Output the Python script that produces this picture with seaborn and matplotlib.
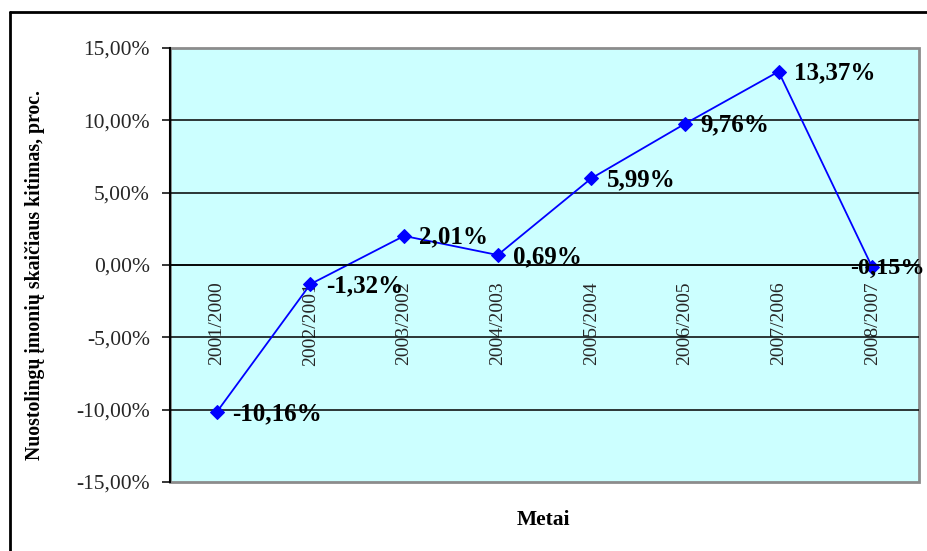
import matplotlib
matplotlib.use("Agg")
import matplotlib.pyplot as plt
import matplotlib.ticker as mticker
from matplotlib.lines import Line2D
from matplotlib.patches import Rectangle
import seaborn as sns
import pandas as pd

# Data: yearly change in the number of loss-making companies
periods = ["2001/2000", "2002/2001", "2003/2002", "2004/2003",
           "2005/2004", "2006/2005", "2007/2006", "2008/2007"]
change_pct = [-10.16, -1.32, 2.01, 0.69, 5.99, 9.76, 13.37, -0.15]
y_ticks = [-15, -10, -5, 0, 5, 10, 15]

sns.set_theme(style="white")
plt.rcParams["font.family"] = ["Liberation Serif", "DejaVu Serif"]

W, H = 927, 551
fig = plt.figure(figsize=(W / 100, H / 100), dpi=100)
fig.patch.set_facecolor("white")

left, right, top, bottom = 170, 919, 48, 482
ax = fig.add_axes([left / W, 1 - bottom / H, (right - left) / W, (bottom - top) / H])
ax.set_facecolor("#CCFFFF")

df = pd.DataFrame({"x": range(len(periods)), "y": change_pct})
sns.lineplot(data=df, x="x", y="y", ax=ax, color="#0000FF", linewidth=1.3,
             marker="D", markersize=7, markeredgecolor="#0000FF", sort=False)

ax.set_xlim(-0.5, len(periods) - 0.5)
ax.set_ylim(-15, 15)

# horizontal grid lines
ax.set_yticks(y_ticks)
ax.yaxis.set_major_formatter(mticker.FuncFormatter(
    lambda v, p: f"{v:.2f}".replace(".", ",") + "%"))
for v in y_ticks[1:-1]:
    ax.axhline(v, color="black", linewidth=1.1, zorder=1)

# category axis crossing at zero
ax.spines["bottom"].set_position(("data", 0))
ax.spines["bottom"].set_color("black")
ax.spines["bottom"].set_linewidth(1.1)
ax.spines["left"].set_color("black")
ax.spines["left"].set_linewidth(1.5)
ax.spines["top"].set_visible(False)
ax.spines["right"].set_visible(False)
ax.add_patch(Rectangle((0, 0), 1, 1, transform=ax.transAxes, fill=False,
                       edgecolor="#8c8c8c", linewidth=2, clip_on=False, zorder=0.5))

ax.set_xticks(range(len(periods)))
ax.set_xticklabels(periods, rotation=90, va="top", ha="center", fontsize=14)
ax.xaxis.set_minor_locator(mticker.FixedLocator([i + 0.5 for i in range(len(periods) - 1)]))
ax.tick_params(axis="x", which="major", length=0, pad=12)
ax.tick_params(axis="x", which="minor", length=5, width=1.1, color="black", direction="out")
ax.tick_params(axis="y", which="major", length=5.5, width=1.1, color="black",
               direction="out", labelsize=15.5, pad=9, left=True)

# value labels
for i, v in enumerate(change_pct):
    last = i == len(change_pct) - 1
    ax.annotate(f"{v:.2f}".replace(".", ",") + "%", (i, v),
                xytext=(-16 if last else 11, -1),
                textcoords="offset points", ha="left", va="center",
                fontsize=17.5 if last else 18, fontweight="bold", color="black",
                annotation_clip=False, zorder=5)

ax.set_xlabel("")
ax.set_ylabel("Nuostolingų įmonių skaičiaus kitimas, proc.", fontsize=14.2,
              fontweight="bold", color="black")
ax.yaxis.set_label_coords((45 - left) / (right - left), 0.477)
fig.text(543 / W, 1 - 520 / H, "Metai", ha="center", va="center",
         fontsize=15.5, fontweight="bold", color="black")

# outer chart frame
fig.add_artist(Line2D([10 / W, 10 / W], [0, 1 - 12 / H], color="black", linewidth=2))
fig.add_artist(Line2D([10 / W, 1], [1 - 12 / H, 1 - 12 / H], color="black", linewidth=2))

fig.savefig("out.png", dpi=100)
